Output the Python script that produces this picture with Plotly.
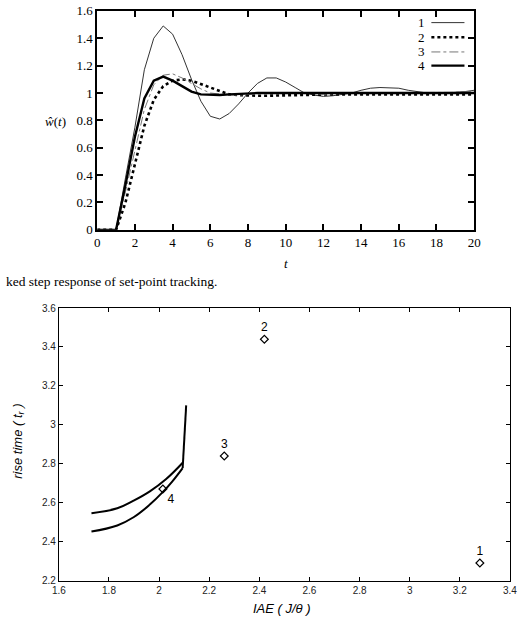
import plotly.graph_objects as go

# ---- top chart data: step responses ----
t = [0, 0.5, 1, 1.5, 2, 2.5, 3, 3.5, 4, 4.5, 5, 5.5, 6, 6.5, 7, 7.5, 8, 8.5, 9, 9.5,
     10, 10.5, 11, 11.5, 12, 12.5, 13, 13.5, 14, 14.5, 15, 15.5, 16, 16.5, 17, 17.5,
     18, 18.5, 19, 19.5, 20]
w1 = [0, 0, 0, 0.38, 0.75, 1.17, 1.40, 1.49, 1.43, 1.28, 1.10, 0.94, 0.83, 0.81, 0.85,
      0.92, 1.0, 1.07, 1.11, 1.11, 1.08, 1.04, 1.0, 0.985, 0.975, 0.98, 0.99, 1.0, 1.02,
      1.035, 1.04, 1.04, 1.035, 1.02, 1.01, 1.0, 0.998, 1.0, 1.005, 1.01, 1.02]
w2 = [0, 0, 0, 0.2, 0.48, 0.76, 0.95, 1.05, 1.09, 1.10, 1.09, 1.065, 1.035, 1.01, 0.99,
      0.985, 0.98, 0.98, 0.98, 0.982, 0.985, 0.987, 0.988, 0.99, 0.99, 0.99, 0.99, 0.99,
      0.99, 0.99, 0.99, 0.99, 0.99, 0.99, 0.99, 0.99, 0.99, 0.99, 0.99, 0.99, 0.99]
w3 = [0, 0, 0, 0.28, 0.58, 0.88, 1.06, 1.13, 1.14, 1.11, 1.07, 1.03, 1.0, 0.99, 0.985,
      0.985, 0.99, 0.995, 1.0, 1.0, 1.0, 1.0, 1.0, 0.995, 0.99, 0.995, 1.0, 1.0, 1.0,
      1.0, 1.0, 1.0, 1.0, 1.0, 1.0, 1.0, 1.0, 1.0, 1.005, 1.01, 1.01]
w4 = [0, 0, 0, 0.33, 0.68, 0.96, 1.09, 1.12, 1.09, 1.05, 1.01, 0.99, 0.985, 0.985, 0.99,
      0.995, 1.0, 1.0, 1.0, 1.0, 1.0, 1.0, 1.0, 1.0, 1.0, 1.0, 1.0, 1.0, 1.0, 1.0, 1.0,
      1.0, 1.0, 1.0, 1.0, 1.0, 1.0, 1.0, 1.0, 1.0, 1.0]
series_names = ["1", "2", "3", "4"]

# ---- bottom chart data ----
iae_pts = [3.28, 2.42, 2.26, 2.015]
rise_pts = [2.29, 3.44, 2.84, 2.67]
pt_labels = ["1", "2", "3", "4"]

upper_x = [1.73, 1.833, 1.898, 1.963, 2.027, 2.094]
upper_y = [2.546, 2.571, 2.61, 2.658, 2.72, 2.805]
lower_x = [1.73, 1.833, 1.898, 1.963, 2.015, 2.053, 2.094]
lower_y = [2.452, 2.483, 2.525, 2.59, 2.655, 2.71, 2.778]
vert_x = [2.094, 2.108]
vert_y = [2.778, 3.10]

W, H = 525, 624
def px(x):
    return x / W
def py(y):
    return 1 - y / H

fig = go.Figure()

styles = [
    dict(color="#333333", width=1.0, dash="solid"),
    dict(color="#000000", width=2.6, dash="dot"),
    dict(color="#777777", width=1.0, dash="dashdot"),
    dict(color="#000000", width=2.4, dash="solid"),
]
for name, ys, st in zip(series_names, [w1, w2, w3, w4], styles):
    fig.add_trace(go.Scatter(x=t, y=ys, mode="lines", name=name, line=st,
                             xaxis="x", yaxis="y", showlegend=False))

serif = "Liberation Serif"
sans = "Liberation Sans"

# bottom: fronts + points
front_line = dict(color="black", width=2)
fig.add_trace(go.Scatter(x=upper_x, y=upper_y, mode="lines", line=dict(front_line, shape="spline", smoothing=1.2),
                         xaxis="x2", yaxis="y2", showlegend=False))
fig.add_trace(go.Scatter(x=lower_x, y=lower_y, mode="lines", line=dict(front_line, shape="spline", smoothing=1.2),
                         xaxis="x2", yaxis="y2", showlegend=False))
fig.add_trace(go.Scatter(x=vert_x, y=vert_y, mode="lines", line=front_line,
                         xaxis="x2", yaxis="y2", showlegend=False))
fig.add_trace(go.Scatter(x=iae_pts, y=rise_pts, mode="markers+text", text=pt_labels,
                         textposition=["top center", "top center", "top center", "bottom right"],
                         textfont=dict(family=sans, size=12, color="black"),
                         marker=dict(symbol="diamond-open", size=6, color="black", line=dict(width=1.2)),
                         xaxis="x2", yaxis="y2", showlegend=False))

annotations = []
# legend (label left, line sample right)
shapes = []
leg_y = [17, 32, 47, 61]
for name, yy, st in zip(series_names, leg_y, styles):
    annotations.append(dict(x=px(431), y=py(yy), xref="paper", yref="paper", text=name,
                            showarrow=False, xanchor="right", yanchor="middle",
                            font=dict(family=serif, size=13, color="black")))
    shapes.append(dict(type="line", xref="paper", yref="paper", x0=px(436), x1=px(470),
                       y0=py(yy), y1=py(yy), line=st))

# axis titles & caption
annotations += [
    dict(x=px(287), y=py(263), xref="paper", yref="paper", text="<i>t</i>", showarrow=False,
         font=dict(family=serif, size=13, color="black"), xanchor="center", yanchor="middle"),
    dict(x=px(50), y=py(118), xref="paper", yref="paper", text="<i>ŵ</i>(<i>t</i>)", showarrow=False,
         font=dict(family=serif, size=13, color="black"), xanchor="center", yanchor="middle"),
    dict(x=px(-3), y=py(282), xref="paper", yref="paper", text="ked step response of set-point tracking.",
         showarrow=False, font=dict(family=serif, size=13.5, color="black"), xanchor="left", yanchor="middle"),
    dict(x=px(283), y=py(616), xref="paper", yref="paper", text="<i>IAE ( J/θ )</i>", showarrow=False,
         font=dict(family=sans, size=13, color="black"), xanchor="center", yanchor="middle"),
    dict(x=px(11), y=py(445), xref="paper", yref="paper", text="<i>rise time ( t<sub>r</sub> )</i>",
         showarrow=False, textangle=-90,
         font=dict(family=sans, size=13, color="black"), xanchor="center", yanchor="middle"),
]

top_axis = dict(showgrid=False, zeroline=False, showline=True, linecolor="black", linewidth=2,
                mirror="ticks", ticks="inside", ticklen=6, tickwidth=2, tickcolor="black",
                tickfont=dict(family=serif, size=13, color="black"))
bot_axis = dict(showgrid=False, zeroline=False, showline=True, linecolor="black", linewidth=1,
                mirror="ticks", ticks="inside", ticklen=4, tickwidth=1, tickcolor="black",
                tickfont=dict(family=sans, size=10, color="#222222"))

fig.update_layout(
    width=W, height=H, margin=dict(l=0, r=0, t=0, b=0),
    paper_bgcolor="white", plot_bgcolor="white",
    xaxis=dict(top_axis, domain=[px(92.7), px(480)], range=[0, 20], dtick=2, anchor="y"),
    yaxis=dict(top_axis, domain=[py(229), py(5)], range=[0, 1.6], anchor="x",
               tickvals=[0, 0.2, 0.4, 0.6, 0.8, 1, 1.2, 1.4, 1.6],
               ticktext=["0", "0.2", "0.4", "0.6", "0.8", "1", "1.2", "1.4", "1.6"]),
    xaxis2=dict(bot_axis, domain=[px(53.3), px(516.7)], range=[1.6, 3.4], anchor="y2",
                tickvals=[1.6, 1.8, 2, 2.2, 2.4, 2.6, 2.8, 3, 3.2, 3.4],
                ticktext=["1.6", "1.8", "2", "2.2", "2.4", "2.6", "2.8", "3", "3.2", "3.4"]),
    yaxis2=dict(bot_axis, domain=[py(587.7), py(309)], range=[2.2, 3.6], anchor="x2",
                tickvals=[2.2, 2.4, 2.6, 2.8, 3, 3.2, 3.4, 3.6],
                ticktext=["2.2", "2.4", "2.6", "2.8", "3", "3.2", "3.4", "3.6"]),
    annotations=annotations, shapes=shapes,
)

fig.write_html("out.html")
